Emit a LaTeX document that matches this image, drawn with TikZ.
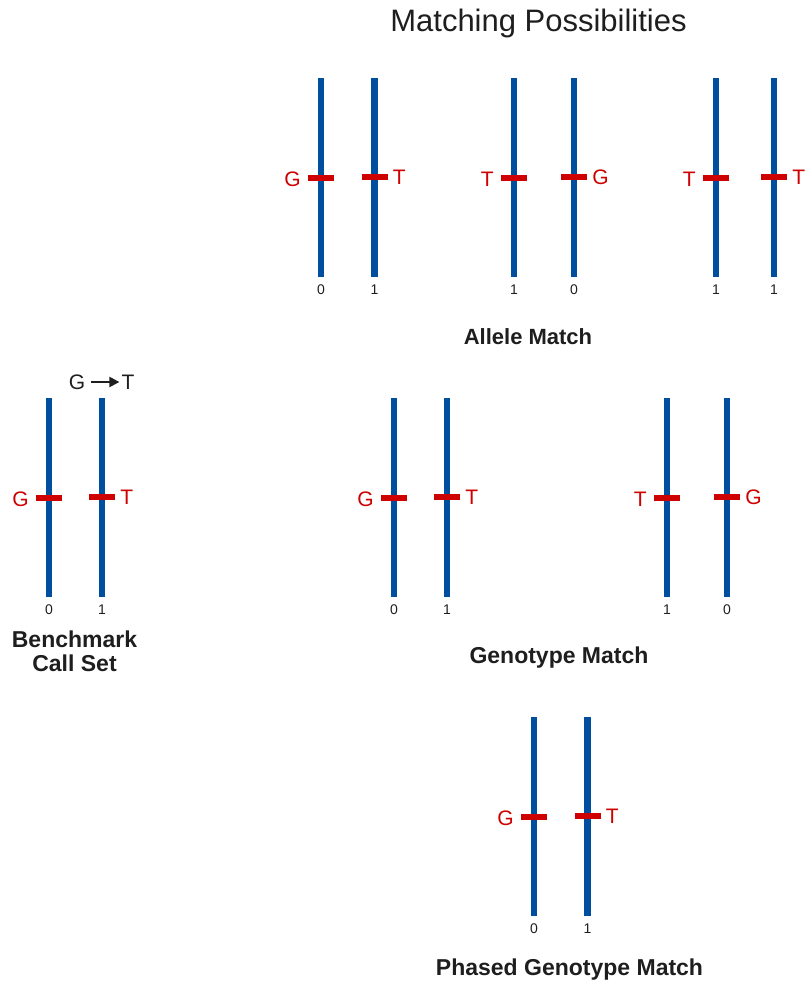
\documentclass[tikz,border=0pt]{standalone}
\usepackage{fontspec}
\setmainfont{Liberation Sans}
\usetikzlibrary{arrows.meta}
\definecolor{chromblue}{RGB}{0,78,158}
\definecolor{allelered}{RGB}{206,0,0}
\definecolor{inkdark}{RGB}{30,30,30}
\tikzset{
  chrom/.style={fill=chromblue, minimum width=6.5pt, minimum height=199pt, inner sep=0pt, anchor=north},
  allelebar/.style={fill=allelered, minimum width=26pt, minimum height=6pt, inner sep=0pt},
  allele/.style={text=allelered, font=\fontsize{21}{21}\selectfont, inner sep=0pt},
  hapidx/.style={text=inkdark, font=\fontsize{14}{14}\selectfont, inner sep=0pt},
  caption/.style={text=inkdark, font=\bfseries\fontsize{23}{24}\selectfont, align=center, inner sep=0pt, anchor=base},
}
% A pair of homologous chromosomes carrying one allele each.
% #1 name prefix, #2 left x, #3 right x, #4 top y,
% #5 left allele, #6 right allele, #7 left index, #8 right index
\newcommand\chrpair[8]{%
  \node[chrom] (#1L) at (#2,#4) {};
  \node[chrom] (#1R) at (#3,#4) {};
  \node[allelebar] (#1Lb) at (#2,{#4+100}) {};
  \node[allelebar] (#1Rb) at (#3,{#4+98.5}) {};
  \node[allele, anchor=east] (#1La) at ([xshift=-7pt,yshift=-1.5pt]#1Lb.west) {#5};
  \node[allele, anchor=west] (#1Ra) at ([xshift=5pt,yshift=-1pt]#1Rb.east) {#6};
  \node[hapidx] (#1Li) at (#2,{#4+212}) {#7};
  \node[hapidx] (#1Ri) at (#3,{#4+212}) {#8};
}
\begin{document}
\begin{tikzpicture}[x=1pt, y=-1pt]
  \useasboundingbox (0,0) rectangle (804,982);

  \node[text=inkdark, font=\fontsize{31}{32}\selectfont, inner sep=0pt, anchor=base] (title) at (538.5,32) {Matching Possibilities};

  % allele match
  \chrpair{am1}{321}{374.5}{78}{G}{T}{0}{1}
  \chrpair{am2}{514}{574}{78}{T}{G}{1}{0}
  \chrpair{am3}{716}{774}{78}{T}{T}{1}{1}
  \node[caption, font=\bfseries\fontsize{22}{24}\selectfont] (amcap) at (528,344) {Allele Match};

  % benchmark call set
  \chrpair{bm}{49}{102}{398}{G}{T}{0}{1}
  \node[text=inkdark, font=\fontsize{21}{21}\selectfont, inner sep=0pt] (refG) at (77,382) {G};
  \node[text=inkdark, font=\fontsize{21}{21}\selectfont, inner sep=0pt] (altT) at (128,382) {T};
  \draw[inkdark, line width=2.2pt, -{Triangle[length=10pt,width=10pt]}] ([xshift=6pt]refG.east) -- ([xshift=-2pt]altT.west);
  \node[caption] (bmcap) at (74.5,671) {Benchmark\\Call Set};

  % genotype match
  \chrpair{gm1}{394}{447}{398}{G}{T}{0}{1}
  \chrpair{gm2}{667}{727}{398}{T}{G}{1}{0}
  \node[caption] (gmcap) at (559,663) {Genotype Match};

  % phased genotype match
  \chrpair{pg}{534}{587.5}{717}{G}{T}{0}{1}
  \node[caption] (pgcap) at (569.5,975) {Phased Genotype Match};
\end{tikzpicture}
\end{document}
